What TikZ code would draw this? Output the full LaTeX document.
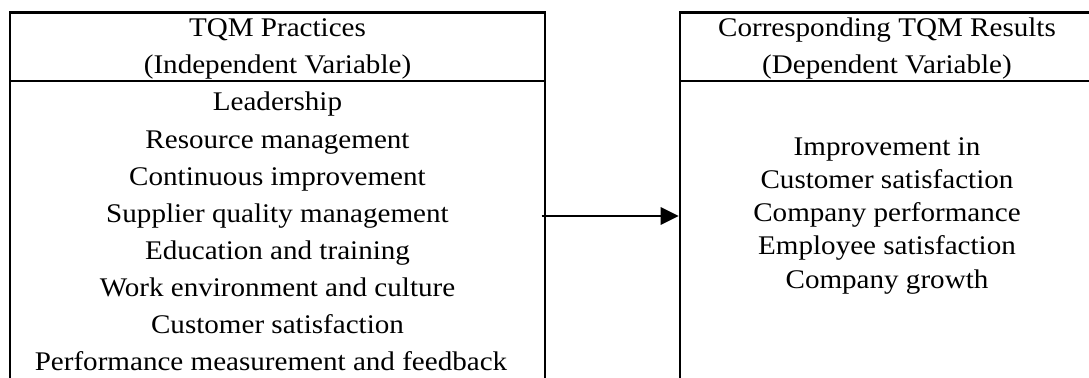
\documentclass[tikz,border=0pt]{standalone}
\usepackage{fontspec}
\setmainfont{Liberation Serif}[FakeStretch=1.08]
\usetikzlibrary{arrows.meta}
\tikzset{
  boxline/.style={line width=1.8pt, line join=miter},
  txt/.style={anchor=base, inner sep=0pt, font=\fontsize{20.2}{22}\selectfont},
  conn/.style={line width=1.8pt, -{Triangle[length=13.5pt,width=13pt]}, shorten >=0.3pt}
}
\begin{document}
\begin{tikzpicture}[x=0.75pt,y=-0.75pt]
\useasboundingbox (0,0) rectangle (1089,378);
\clip (0,0) rectangle (1089,378);
% left box
\draw[boxline] (10,400) -- (10,12.5) -- (545,12.5) -- (545,400);
\draw[boxline] (10,81) -- (545,81);
% right box
\draw[boxline] (680,400) -- (680,12.5) -- (1100,12.5);
\draw[boxline] (680,81) -- (1100,81);
% left texts
\node[txt] (lh1) at (277.5,37) {TQM Practices};
\node[txt] (lh2) at (277.5,74) {(Independent Variable)};
\node[txt] (l1) at (277.5,111) {Leadership};
\node[txt] (l2) at (277.5,148) {Resource management};
\node[txt] (l3) at (277.5,185) {Continuous improvement};
\node[txt] (l4) at (277.5,222) {Supplier quality management};
\node[txt] (l5) at (277.5,259) {Education and training};
\node[txt] (l6) at (277.5,296) {Work environment and culture};
\node[txt] (l7) at (277.5,333) {Customer satisfaction};
\node[txt] (l8) at (271,370) {Performance measurement and feedback};
% right texts
\node[txt] (rh1) at (887,37) {Corresponding TQM Results};
\node[txt] (rh2) at (887,74) {(Dependent Variable)};
\node[txt] (r1) at (887,155) {Improvement in};
\node[txt] (r2) at (887,188.25) {Customer satisfaction};
\node[txt] (r3) at (887,221.5) {Company performance};
\node[txt] (r4) at (887,254.75) {Employee satisfaction};
\node[txt] (r5) at (887,288) {Company growth};
% arrow
\coordinate (arrowstart) at (541.5,216);
\coordinate (arrowend) at (679,216);
\draw[conn] (arrowstart) -- (arrowend);
\end{tikzpicture}
\end{document}
